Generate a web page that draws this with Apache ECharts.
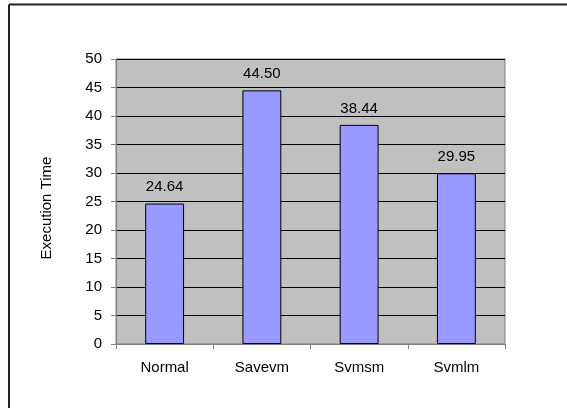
<!DOCTYPE html>
<html>
<head>
<meta charset="utf-8">
<script src="https://cdn.jsdelivr.net/npm/echarts@6/dist/echarts.min.js"></script>
<style>
  html, body { margin: 0; padding: 0; background: #fff; }
  #main { width: 567px; height: 408px; }
</style>
</head>
<body>
<div id="main"></div>
<script>
var categories = ['Normal', 'Savevm', 'Svmsm', 'Svmlm'];
var execTimes = [24.64, 44.50, 38.44, 29.95];

var myChart = echarts.init(document.getElementById('main'));

var option = {
    animation: false,
    textStyle: { fontFamily: 'Liberation Sans, Arial, sans-serif' },
    // frame lines on the top and left edges
    graphic: [
        { type: 'line', shape: { x1: 9, y1: 4.5, x2: 567, y2: 4.5 }, style: { stroke: '#222', lineWidth: 2 } },
        { type: 'line', shape: { x1: 9, y1: 4.5, x2: 9, y2: 408 }, style: { stroke: '#222', lineWidth: 2 } }
    ],
    grid: {
        left: 116,
        right: 62,
        top: 59,
        bottom: 64,
        show: true,
        backgroundColor: '#C0C0C0',
        borderColor: '#808080',
        borderWidth: 1
    },
    xAxis: {
        type: 'category',
        data: categories,
        axisLine: { lineStyle: { color: '#808080', width: 1 } },
        axisTick: { show: true, length: 5, lineStyle: { color: '#808080' } },
        axisLabel: { color: '#000', fontSize: 15, margin: 16 }
    },
    yAxis: {
        type: 'value',
        min: 0,
        max: 50,
        interval: 5,
        name: 'Execution Time',
        nameLocation: 'middle',
        nameGap: 62,
        nameTextStyle: { color: '#000', fontSize: 15, padding: [0, 13, 0, 0] },
        axisLine: { show: true, lineStyle: { color: '#808080', width: 1 } },
        axisTick: { show: true, length: 5, lineStyle: { color: '#808080' } },
        axisLabel: { color: '#000', fontSize: 15, margin: 14 },
        splitLine: { show: true, lineStyle: { color: '#000', width: 1 } }
    },
    series: [{
        name: 'Execution Time',
        type: 'bar',
        data: execTimes,
        barWidth: '40%',
        itemStyle: { color: '#9999FF', borderColor: '#000', borderWidth: 1 },
        label: {
            show: true,
            position: 'top',
            distance: 9,
            color: '#000',
            fontSize: 15,
            formatter: function (p) { return p.value.toFixed(2); }
        }
    }]
};

myChart.setOption(option);
</script>
</body>
</html>
